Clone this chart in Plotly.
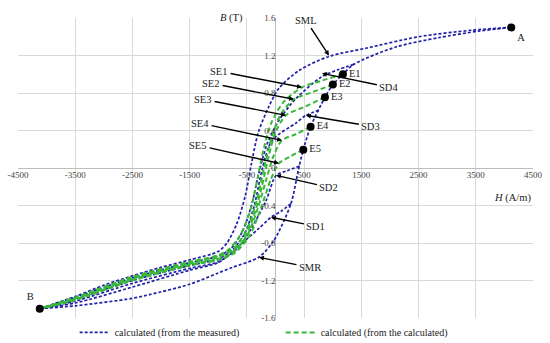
import plotly.graph_objects as go

# ---------------- data ----------------
x_ticks = [-4500, -3500, -2500, -1500, -500, 500, 1500, 2500, 3500, 4500]
x_tick_text = ["-4500", "-3500", "-2500", "-1500", "-500", "500", "1500", "2500", "3500", "4500"]
y_ticks = [1.6, 1.2, 0.8, 0.4, 0, -0.4, -0.8, -1.2, -1.6]
y_tick_text = ["1.6", "1.2", "0.8", "0.4", "0", "-0.4", "-0.8", "-1.2", "-1.6"]

# major loop, descending (SML)
sml_h = [4120, 3430, 2500, 1600, 934, 410, 60, -120, -300, -420, -530, -680, -850, -1000, -1500, -2000, -2500, -3000, -3500, -4120]
sml_b = [1.50, 1.47, 1.40, 1.28, 1.19, 1.04, 0.85, 0.65, 0.38, 0.05, -0.30, -0.60, -0.80, -0.89, -0.98, -1.06, -1.15, -1.25, -1.37, -1.50]
# major loop, ascending (SMR)
smr_h = [-4120, -3500, -2500, -2200, -1500, -1000, -755, -288, -26, 270, 400, 486, 614, 864, 1003, 1178, 1370, 2100, 2850, 3550, 4120]
smr_b = [-1.50, -1.47, -1.39, -1.35, -1.24, -1.12, -1.06, -0.95, -0.77, -0.38, -0.02, 0.196, 0.44, 0.754, 0.89, 1.0, 1.106, 1.29, 1.39, 1.46, 1.50]
# descending curves calculated from the measured (blue)
sd4_h = [1370, 1100, 800, 358, 61, -150, -290, -420, -580, -780, -1000, -1500, -2500, -3500, -4120]
sd4_b = [1.106, 1.05, 0.97, 0.74, 0.51, 0.25, -0.05, -0.40, -0.68, -0.86, -0.94, -1.01, -1.17, -1.38, -1.50]
sd3_h = [760, 532, 360, -60, -235, -370, -540, -760, -1000, -1500, -2500, -3500, -4120]
sd3_b = [0.615, 0.562, 0.48, 0.295, -0.02, -0.40, -0.70, -0.88, -0.97, -1.04, -1.20, -1.40, -1.50]
sd2_h = [420, 200, 9, -166, -410, -650, -1000, -1500, -2500, -3500, -4120]
sd2_b = [0.02, -0.03, -0.08, -0.35, -0.63, -0.85, -1.00, -1.07, -1.23, -1.42, -1.50]
sd1_h = [270, 100, -79, -300, -580, -800, -1000, -1500, -2500, -3500, -4120]
sd1_b = [-0.38, -0.46, -0.526, -0.65, -0.80, -0.92, -1.01, -1.09, -1.27, -1.44, -1.50]
# descending curves calculated from the calculated (green)
se1_h = [1178, 800, 462, 150, -60, -200, -310, -440, -620, -820, -1000, -1500, -2500, -3500, -4120]
se1_b = [1.0, 0.93, 0.86, 0.71, 0.50, 0.22, -0.10, -0.45, -0.72, -0.87, -0.93, -1.00, -1.16, -1.38, -1.50]
se2_h = [1003, 650, 323, 80, -80, -200, -330, -500, -720, -1000, -1500, -2500, -3500, -4120]
se2_b = [0.89, 0.81, 0.733, 0.56, 0.30, 0.0, -0.35, -0.66, -0.85, -0.94, -1.01, -1.17, -1.39, -1.50]
se3_h = [864, 500, 183, 0, -120, -240, -400, -620, -1000, -1500, -2500, -3500, -4120]
se3_b = [0.754, 0.65, 0.562, 0.38, 0.12, -0.20, -0.55, -0.82, -0.95, -1.02, -1.18, -1.39, -1.50]
se4_h = [614, 350, 113, -40, -160, -320, -520, -800, -1000, -1500, -2500, -3500, -4120]
se4_b = [0.44, 0.36, 0.295, 0.12, -0.12, -0.45, -0.75, -0.92, -0.97, -1.03, -1.19, -1.40, -1.50]
se5_h = [486, 250, 61, -80, -250, -450, -700, -1000, -1500, -2500, -3500, -4120]
se5_b = [0.196, 0.12, 0.05, -0.12, -0.42, -0.72, -0.90, -0.98, -1.04, -1.20, -1.41, -1.50]

# labelled points
pt_names = ["A", "B", "E1", "E2", "E3", "E4", "E5"]
pt_h = [4120, -4120, 1178, 1003, 864, 614, 486]
pt_b = [1.50, -1.50, 1.0, 0.89, 0.754, 0.44, 0.196]

# curve labels: text, text position, arrow tip
lab_text = ["SML", "SE1", "SE2", "SE3", "SE4", "SE5", "SD4", "SD3", "SD2", "SD1", "SMR"]
lab_h = [532, -986, -1126, -1265, -1318, -1353, 1981, 1667, 934, 707, 602]
lab_b = [1.576, 1.031, 0.903, 0.733, 0.477, 0.242, 0.861, 0.445, -0.206, -0.622, -1.059]
tip_h = [934, 462, 323, 183, 113, 61, 812, 532, 9, -79, -288]
tip_b = [1.20, 0.861, 0.733, 0.562, 0.295, 0.050, 1.01, 0.562, -0.078, -0.526, -0.953]

# ---------------- figure ----------------
BLUE = "#1f1fa8"
GREEN = "#38b838"
FONT = "Liberation Serif"

fig = go.Figure()

blue_curves = [(sml_h, sml_b), (smr_h, smr_b), (sd4_h, sd4_b), (sd3_h, sd3_b), (sd2_h, sd2_b), (sd1_h, sd1_b)]
green_curves = [(se1_h, se1_b), (se2_h, se2_b), (se3_h, se3_b), (se4_h, se4_b), (se5_h, se5_b)]

for i, (h, b) in enumerate(blue_curves):
    fig.add_trace(go.Scatter(
        x=h, y=b, mode="lines",
        line=dict(color=BLUE, width=1.7, dash="3px,2px", shape="spline", smoothing=0.8),
        name="calculated (from the measured)", legendgroup="blue", showlegend=(i == 0)))

for i, (h, b) in enumerate(green_curves):
    fig.add_trace(go.Scatter(
        x=h, y=b, mode="lines",
        line=dict(color=GREEN, width=2, dash="5px,3px", shape="spline", smoothing=0.8),
        name="calculated (from the calculated)", legendgroup="green", showlegend=(i == 0)))

text_pos = ["bottom right", "top left"] + ["middle right"] * 5
fig.add_trace(go.Scatter(
    x=pt_h, y=pt_b, mode="markers+text", text=pt_names, textposition=text_pos,
    marker=dict(color="black", size=8), textfont=dict(family=FONT, size=10.5, color="#222"),
    showlegend=False, cliponaxis=False, hoverinfo="skip"))

for t, lh, lb, th, tb in zip(lab_text, lab_h, lab_b, tip_h, tip_b):
    fig.add_annotation(x=th, y=tb, ax=lh, ay=lb, xref="x", yref="y", axref="x", ayref="y",
                       text=t, showarrow=True, arrowhead=2, arrowsize=0.7, arrowwidth=1.4,
                       arrowcolor="black", standoff=0, startstandoff=1,
                       font=dict(family=FONT, size=10.5, color="#222"))

fig.add_annotation(x=-540, y=1.6, xref="x", yref="y", xanchor="right", yanchor="middle",
                   text="<i>B</i> (T)", showarrow=False, font=dict(family=FONT, size=10.5, color="#222"))
fig.add_annotation(x=4500, y=-0.32, xref="x", yref="y", xanchor="right", yanchor="middle",
                   text="<i>H</i> (A/m)", showarrow=False, font=dict(family=FONT, size=10.5, color="#222"))

fig.update_layout(
    width=550, height=343,
    margin=dict(l=18, r=17, t=18, b=25, autoexpand=False),
    paper_bgcolor="white", plot_bgcolor="white",
    font=dict(family=FONT, size=10, color="#333"),
    hovermode=False,
    xaxis=dict(range=[-4500, 4500], tickvals=x_ticks, ticktext=x_tick_text,
               showgrid=True, gridcolor="#d9d9d9", gridwidth=1,
               zeroline=True, zerolinecolor="#bdbdbd", zerolinewidth=1,
               anchor="free", position=0.5, ticks="", showline=False, automargin=False,
               tickfont=dict(family=FONT, size=9, color="#444")),
    yaxis=dict(range=[-1.6, 1.6], tickvals=y_ticks, ticktext=y_tick_text,
               showgrid=True, gridcolor="#d9d9d9", gridwidth=1,
               zeroline=True, zerolinecolor="#bdbdbd", zerolinewidth=1,
               anchor="free", position=0.5, ticks="", showline=False, automargin=False,
               tickfont=dict(family=FONT, size=9, color="#444")),
    legend=dict(orientation="h", x=0.11, xanchor="left", y=-0.048, yanchor="middle",
                font=dict(family=FONT, size=10, color="#222"),
                entrywidth=161, entrywidthmode="pixels", bgcolor="rgba(0,0,0,0)"),
)

fig.write_html("out.html", config={"displayModeBar": False},
               post_script="document.body.style.margin='0';document.body.style.overflow='hidden';")
